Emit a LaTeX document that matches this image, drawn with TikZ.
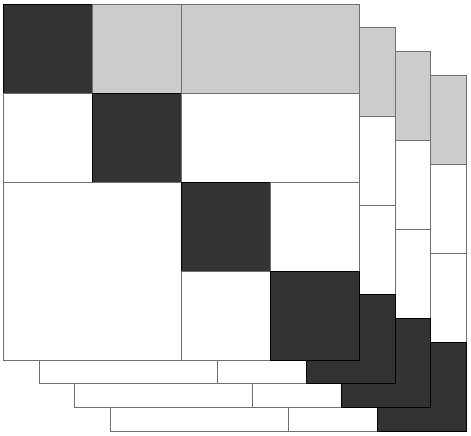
\documentclass[tikz,border=0pt]{standalone}
\definecolor{darkcell}{HTML}{333333}
\definecolor{greycell}{HTML}{CCCCCC}
\definecolor{edge}{HTML}{707070}
\tikzset{
  cell/.style={draw=edge, line width=0.8pt},
  darkc/.style={cell, fill=darkcell, draw=black},
  greyc/.style={cell, fill=greycell},
  whitec/.style={cell, fill=white},
}
\begin{document}
\begin{tikzpicture}[x=1pt,y=-1pt]
\useasboundingbox (0,0) rectangle (471,436);
\foreach \k in {3,2,1,0}{
  \begin{scope}[shift={(3.5+35.6*\k,4+23.8*\k)}, x=89pt, y=-89pt]
    \fill[white] (0,0) rectangle (4,4);
    \draw[darkc]  (0,0) rectangle (1,1);
    \draw[greyc]  (1,0) rectangle (2,1);
    \draw[greyc]  (2,0) rectangle (4,1);
    \draw[whitec] (0,1) rectangle (1,2);
    \draw[darkc]  (1,1) rectangle (2,2);
    \draw[whitec] (2,1) rectangle (4,2);
    \draw[whitec] (0,2) rectangle (2,4);
    \draw[darkc]  (2,2) rectangle (3,3);
    \draw[whitec] (3,2) rectangle (4,3);
    \draw[whitec] (2,3) rectangle (3,4);
    \draw[darkc]  (3,3) rectangle (4,4);
  \end{scope}
}
\end{tikzpicture}
\end{document}
